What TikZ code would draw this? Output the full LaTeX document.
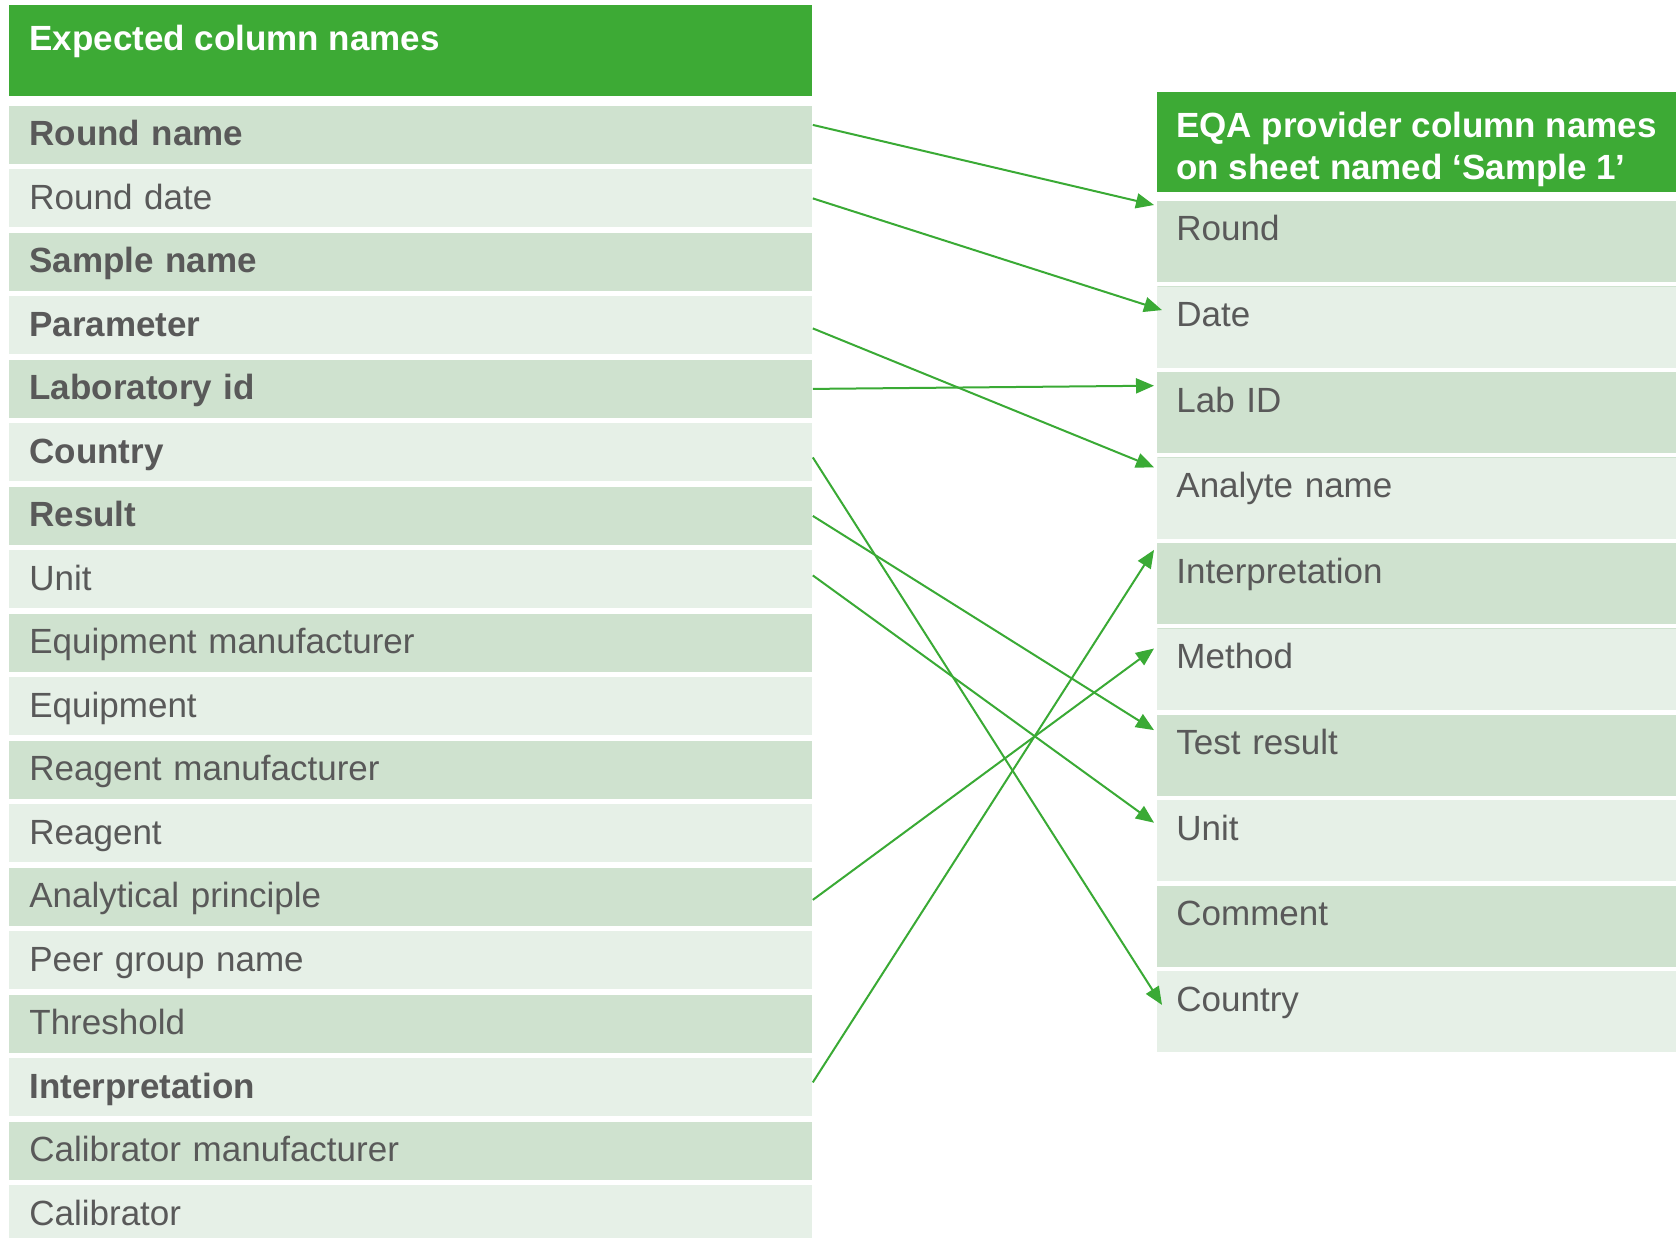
\documentclass[tikz,border=0pt]{standalone}
\usepackage{fontspec}
\setmainfont{Liberation Sans}
\usetikzlibrary{arrows.meta}

\definecolor{headgreen}{RGB}{61,170,53}
\definecolor{linkgreen}{RGB}{58,170,53}
\definecolor{rowdark}{RGB}{207,226,207}
\definecolor{rowlight}{RGB}{230,240,231}
\definecolor{labelgray}{RGB}{89,89,89}

\tikzset{
  colhead/.style={fill=headgreen, anchor=north west, inner sep=0pt},
  headtext/.style={text=white, font=\fontsize{17.5}{20.8}\selectfont\bfseries, inner sep=0pt, align=left},
  rowbox/.style={anchor=north west, inner ysep=0pt, align=left, text=labelgray},
  leftrow/.style={rowbox, text width=381.5pt, inner xsep=10pt, text height=20pt, text depth=9pt},
  rightrow/.style={rowbox, text width=240.5pt, inner xsep=9.5pt, text height=20pt, text depth=20.5pt},
  darkrow/.style={fill=rowdark},
  lightrow/.style={fill=rowlight,
    path picture={\fill[rowdark] (path picture bounding box.north west) rectangle ([yshift=1.5pt]path picture bounding box.north east);}},
  link/.style={draw=linkgreen, line width=1pt, -{Triangle[length=9pt,width=7.5pt]}},
}

\begin{document}
\begin{tikzpicture}[x=0.5pt,y=0.5pt,yscale=-1,font=\fontsize{17.5}{20.8}\selectfont]
    \path[use as bounding box, fill=white] (0,0) rectangle (1676,1237);

    %Shape: Header left
    \node[colhead, minimum width=401.5pt, minimum height=45.5pt] (lhead) at (9,5) {};
    % Text Node
    \node[headtext, anchor=base west] (lheadtext) at ([xshift=10pt,yshift=22.5pt]lhead.north west) {Expected column names};

    %Shape: Header right
    \node[colhead, minimum width=259.5pt, minimum height=50pt] (rhead) at (1157,92) {};
    % Text Node
    \node[headtext, anchor=north west] (rheadtext) at ([xshift=9.5pt,yshift=10pt]rhead.north west) {EQA provider column names\\on sheet named ‘Sample 1’};

    %Rows: expected column names
    \node[leftrow, darkrow]  (l1)  at (9,105.5)  {\textbf{Round name}};
    \node[leftrow, lightrow] (l2)  at (9,169)    {Round date};
    \node[leftrow, darkrow]  (l3)  at (9,232.5)  {\textbf{Sample name}};
    \node[leftrow, lightrow] (l4)  at (9,296)    {\textbf{Parameter}};
    \node[leftrow, darkrow]  (l5)  at (9,359.5)  {\textbf{Laboratory id}};
    \node[leftrow, lightrow] (l6)  at (9,423)    {\textbf{Country}};
    \node[leftrow, darkrow]  (l7)  at (9,486.5)  {\textbf{Result}};
    \node[leftrow, lightrow] (l8)  at (9,550)    {Unit};
    \node[leftrow, darkrow]  (l9)  at (9,613.5)  {Equipment manufacturer};
    \node[leftrow, lightrow] (l10) at (9,677)    {Equipment};
    \node[leftrow, darkrow]  (l11) at (9,740.5)  {Reagent manufacturer};
    \node[leftrow, lightrow] (l12) at (9,804)    {Reagent};
    \node[leftrow, darkrow]  (l13) at (9,867.5)  {Analytical principle};
    \node[leftrow, lightrow] (l14) at (9,931)    {Peer group name};
    \node[leftrow, darkrow]  (l15) at (9,994.5)  {Threshold};
    \node[leftrow, lightrow] (l16) at (9,1058)   {\textbf{Interpretation}};
    \node[leftrow, darkrow]  (l17) at (9,1121.5) {Calibrator manufacturer};
    \node[leftrow, lightrow] (l18) at (9,1185)   {Calibrator};

    %Rows: provider column names
    \node[rightrow, darkrow]  (r1)  at (1157,200.5) {Round};
    \node[rightrow, lightrow] (r2)  at (1157,286.1) {Date};
    \node[rightrow, darkrow]  (r3)  at (1157,371.7) {Lab ID};
    \node[rightrow, lightrow] (r4)  at (1157,457.3) {Analyte name};
    \node[rightrow, darkrow]  (r5)  at (1157,542.9) {Interpretation};
    \node[rightrow, lightrow] (r6)  at (1157,628.5) {Method};
    \node[rightrow, darkrow]  (r7)  at (1157,714.1) {Test result};
    \node[rightrow, lightrow] (r8)  at (1157,799.7) {Unit};
    \node[rightrow, darkrow]  (r9)  at (1157,885.3) {Comment};
    \node[rightrow, lightrow] (r10) at (1157,970.9) {Country};

    %Straight Lines (yshift runs downward here, yscale=-1)
    \draw[link] ([yshift=-5pt]l1.east) -- ([xshift=-1.5pt,yshift=2.25pt]r1.north west);
    \draw[link] (l2.east) -- ([xshift=2.5pt,yshift=12pt]r2.north west);
    \draw[link] ([yshift=1.5pt]l4.east) -- ([xshift=-1.5pt,yshift=5pt]r4.north west);
    \draw[link] (l5.east) -- ([xshift=-1.5pt,yshift=7pt]r3.north west);
    \draw[link] ([yshift=2.5pt]l6.east) -- ([xshift=2.5pt,yshift=17pt]r10.north west);
    \draw[link] (l7.east) -- ([xshift=-1.5pt,yshift=8pt]r7.north west);
    \draw[link] ([yshift=-2pt]l8.east) -- ([xshift=-1.5pt,yshift=11.5pt]r8.north west);
    \draw[link] ([yshift=1.5pt]l13.east) -- ([xshift=-1.5pt,yshift=10pt]r6.north west);
    \draw[link] ([yshift=-2.5pt]l16.east) -- ([xshift=-1.5pt,yshift=3.5pt]r5.north west);

\end{tikzpicture}
\end{document}
